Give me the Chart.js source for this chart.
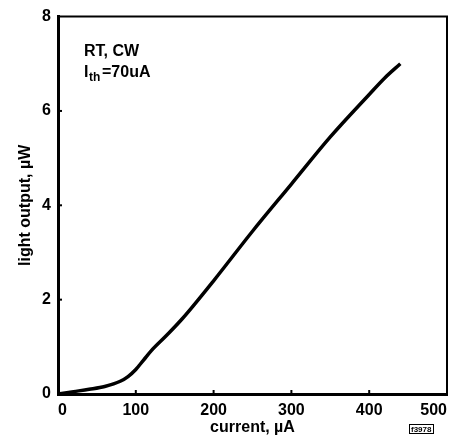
<!DOCTYPE html>
<html>
<head>
<meta charset="utf-8">
<script src="https://cdn.jsdelivr.net/npm/chart.js@4.4.0/dist/chart.umd.min.js"></script>
<style>
  html, body { margin: 0; padding: 0; background: #fff; }
  #wrap { width: 454px; height: 437px; }
</style>
</head>
<body>
<div id="wrap"><canvas id="lightChart" width="454" height="437"></canvas></div>
<script>
// current (uA) vs light output (uW)
const currentUA = [0, 20, 40, 60, 80, 90, 100, 110, 120, 140, 160, 200, 250, 300, 350, 400, 420, 440];
const lightUW = [0, 0.05, 0.1, 0.16, 0.27, 0.37, 0.52, 0.72, 0.92, 1.25, 1.6, 2.4, 3.45, 4.45, 5.45, 6.35, 6.7, 7.0];
const xTicks = [0, 100, 200, 300, 400, 500];
const yTicks = [0, 2, 4, 6, 8];

const FONT = "'Liberation Sans', Arial, sans-serif";

// short inward tick marks, frame and the text notes
const decorPlugin = {
    id: 'decor',
    afterDraw(chart) {
        const ctx = chart.ctx;
        const area = chart.chartArea;
        const xs = chart.scales.x;
        const ys = chart.scales.y;
        ctx.save();
        ctx.strokeStyle = '#000';
        ctx.lineWidth = 2;
        // top and right frame
        ctx.beginPath();
        ctx.moveTo(area.left, area.top);
        ctx.lineTo(area.right, area.top);
        ctx.lineTo(area.right, area.bottom);
        ctx.stroke();
        // inward ticks
        xTicks.slice(1, -1).forEach(v => {
            const px = xs.getPixelForValue(v);
            ctx.beginPath();
            ctx.moveTo(px, area.bottom);
            ctx.lineTo(px, area.bottom - 4);
            ctx.stroke();
        });
        yTicks.slice(1, -1).forEach(v => {
            const py = ys.getPixelForValue(v);
            ctx.beginPath();
            ctx.moveTo(area.left, py);
            ctx.lineTo(area.left + 4, py);
            ctx.stroke();
        });
        // notes
        ctx.fillStyle = '#000';
        ctx.textBaseline = 'alphabetic';
        ctx.textAlign = 'left';
        ctx.font = 'bold 16px ' + FONT;
        ctx.fillText('RT, CW', 84, 56);
        ctx.fillText('I', 84, 77);
        ctx.font = 'bold 12px ' + FONT;
        ctx.fillText('th', 89, 81);
        ctx.font = 'bold 16px ' + FONT;
        ctx.fillText('=70uA', 102, 77);
        // figure stamp
        ctx.font = 'bold 8px ' + FONT;
        ctx.fillText('f3978', 411, 432);
        ctx.lineWidth = 1;
        ctx.strokeRect(409.5, 424.5, 24, 9);
        ctx.restore();
    }
};

const ctx = document.getElementById('lightChart').getContext('2d');
new Chart(ctx, {
    type: 'line',
    data: {
        labels: currentUA,
        datasets: [{
            data: currentUA.map((c, i) => ({ x: c, y: lightUW[i] })),
            borderColor: '#000',
            borderWidth: 3.5,
            pointRadius: 0,
            fill: false,
            cubicInterpolationMode: 'monotone'
        }]
    },
    options: {
        responsive: false,
        animation: false,
        layout: { padding: { top: 13, right: 5, left: 0, bottom: 0 } },
        plugins: {
            legend: { display: false },
            tooltip: { enabled: false }
        },
        scales: {
            x: {
                type: 'linear',
                min: 0,
                max: 500,
                afterBuildTicks(scale) {
                    scale.ticks = xTicks.map(v => ({ value: v }));
                },
                afterFit(scale) { scale.height = 43; },
                grid: { display: false, drawTicks: false },
                border: { display: true, color: '#000', width: 3 },
                ticks: {
                    color: '#000',
                    padding: 7,
                    align: 'inner',
                    font: { family: FONT, size: 16, weight: 'bold' }
                },
                title: {
                    display: true,
                    text: 'current, µA',
                    color: '#000',
                    padding: { top: 0, bottom: 0 },
                    font: { family: FONT, size: 16, weight: 'bold' }
                }
            },
            y: {
                min: 0,
                max: 8,
                afterBuildTicks(scale) {
                    scale.ticks = yTicks.map(v => ({ value: v }));
                },
                afterFit(scale) { scale.width = 58; },
                grid: { display: false, drawTicks: false },
                border: { display: true, color: '#000', width: 3 },
                ticks: {
                    color: '#000',
                    padding: 7,
                    font: { family: FONT, size: 16, weight: 'bold' }
                },
                title: {
                    display: true,
                    text: 'light output, µW',
                    color: '#000',
                    padding: { top: 16, bottom: 0 },
                    font: { family: FONT, size: 16, weight: 'bold' }
                }
            }
        }
    },
    plugins: [decorPlugin]
});
</script>
</body>
</html>
